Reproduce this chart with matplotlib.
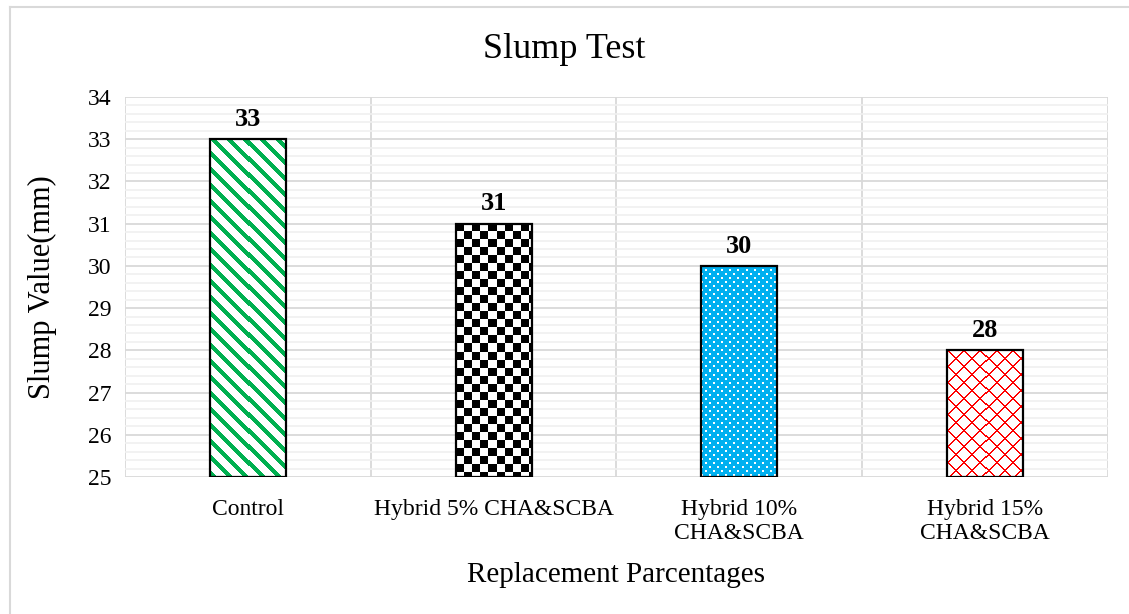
import numpy as np
import matplotlib
matplotlib.use("Agg")
import matplotlib.pyplot as plt
from matplotlib.lines import Line2D

plt.rcParams["font.family"] = ["Liberation Serif", "DejaVu Serif"]

# slump test results
categories = ["Control", "Hybrid 5% CHA&SCBA", "Hybrid 10%\nCHA&SCBA", "Hybrid 15%\nCHA&SCBA"]
slump = [33, 31, 30, 28]
fills = ["stripes", "checker", "dots", "lattice"]
colors = ["#00B050", "#000000", "#00B0F0", "#FF0000"]

y_min, y_max = 25, 34
bar_w = 0.31


def pattern(kind, color, h, w):
    """Pixel pattern (RGB, 0-1) of size h x w for a bar fill."""
    rgb = np.array(matplotlib.colors.to_rgb(color))
    white = np.ones(3)
    i, j = np.mgrid[0:h, 0:w]
    if kind == "stripes":
        mask = ((j - i) % 16) < 6
    elif kind == "checker":
        mask = ((i // 8) + (j // 8)) % 2 == 0
    elif kind == "dots":
        a = ((i % 8) < 2) & ((j % 8) < 2)
        b = (((i + 4) % 8) < 2) & (((j + 4) % 8) < 2)
        mask = ~(a | b)
    else:
        mask = (((i + j) % 16) < 2) | (((j - i) % 16) < 2)
    return np.where(mask[..., None], rgb, white)


fig = plt.figure(figsize=(11.29, 6.14), dpi=100)
ax = fig.add_axes([0.1107, 0.2231, 0.8707, 0.6189])

x = np.arange(len(categories))
ax.set_xlim(-0.5, len(categories) - 0.5)
ax.set_ylim(y_min, y_max)
ax.set_autoscale_on(False)

bars = ax.bar(x, [v - y_min for v in slump], bar_w, bottom=y_min,
              facecolor="none", edgecolor="black", linewidth=1.6, zorder=3)

# patterned fills, one pixel of pattern per screen pixel
fig.canvas.draw()
for bar, kind, col in zip(bars, fills, colors):
    x0, y0 = bar.get_x(), bar.get_y()
    x1, y1 = x0 + bar.get_width(), y0 + bar.get_height()
    p0 = ax.transData.transform((x0, y0))
    p1 = ax.transData.transform((x1, y1))
    w_px = int(round(abs(p1[0] - p0[0])))
    h_px = int(round(abs(p1[1] - p0[1])))
    img = pattern(kind, col, h_px, w_px)
    ax.imshow(img, extent=(x0, x1, y0, y1), aspect="auto",
              interpolation="nearest", zorder=2)

ax.set_xlim(-0.5, len(categories) - 0.5)
ax.set_ylim(y_min, y_max)

# value labels
for xi, v in zip(x, slump):
    ax.annotate(str(v), (xi, v), xytext=(0, 6), textcoords="offset points",
                ha="center", va="bottom", fontsize=19, fontweight="bold")

# gridlines
ax.set_yticks(np.arange(y_min, y_max + 1, 1))
ax.set_yticks(np.arange(y_min, y_max + 0.01, 0.2), minor=True)
ax.set_xticks(x)
ax.set_xticks(np.arange(-0.5, len(categories), 1), minor=True)
ax.set_xticklabels(categories, fontsize=17, linespacing=1.15)
ax.tick_params(axis="y", labelsize=17, length=0, pad=10)
ax.tick_params(axis="x", length=0, pad=16)
ax.tick_params(which="minor", length=0)
ax.grid(which="minor", axis="y", color="#F0F0F0", linewidth=1.2)
ax.grid(which="major", axis="y", color="#D9D9D9", linewidth=1.3)
ax.grid(which="minor", axis="x", color="#D9D9D9", linewidth=1.3)
ax.set_axisbelow(True)
for s in ax.spines.values():
    s.set_visible(False)

ax.set_ylabel("Slump Value(mm)", fontsize=22, labelpad=22)
ax.set_xlabel("Replacement Parcentages", fontsize=21, labelpad=13)
fig.text(0.5, 1 - 50 / 614, "Slump Test", ha="center", va="center", fontsize=26)

# chart frame
fig.add_artist(Line2D([10 / 1129, 10 / 1129], [0, 1 - 7 / 614],
                      transform=fig.transFigure, color="#D9D9D9", linewidth=1.5))
fig.add_artist(Line2D([10 / 1129, 1], [1 - 7 / 614, 1 - 7 / 614],
                      transform=fig.transFigure, color="#D9D9D9", linewidth=1.5))

fig.savefig("out.png", dpi=100)
